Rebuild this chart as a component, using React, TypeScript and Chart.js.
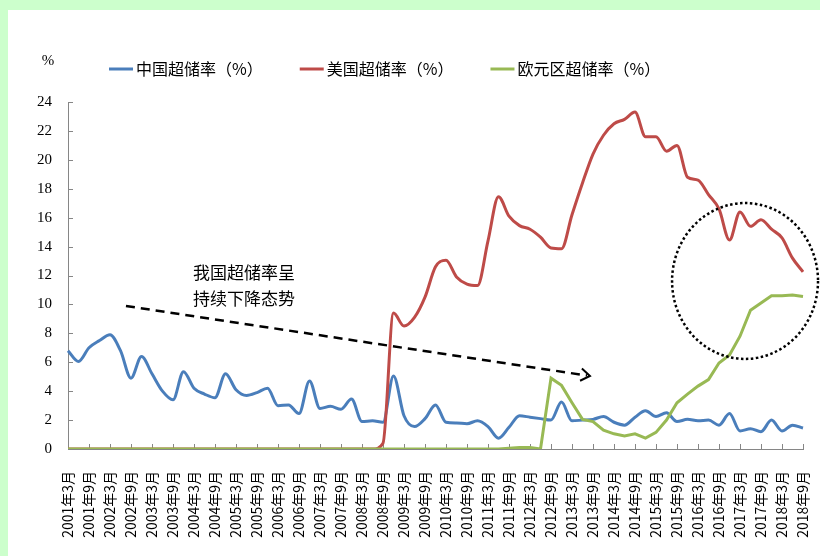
import React, { useEffect, useRef } from "react";
import { Chart, registerables } from "chart.js";

Chart.register(...registerables);

// ---- categories (quarterly, 2001年3月 … 2018年9月) ----
const FIRST_YEAR = 2001;
const LAST_YEAR = 2018;
const MONTHS = [3, 6, 9, 12];
const labels: string[] = [];
for (let y = FIRST_YEAR; y <= LAST_YEAR; y++) {
  for (const m of MONTHS) {
    if (y === LAST_YEAR && m > 9) continue;
    labels.push(`${y}年${m}月`);
  }
}

// ---- series values (%) ----
const chinaRate = [
  6.8, 6.05, 7.0, 7.5, 7.9, 6.8, 4.9, 6.4, 5.2, 4.0, 3.4, 5.35, 4.2, 3.8, 3.55, 5.2,
  4.1, 3.7, 3.9, 4.2, 3.0, 3.05, 2.45, 4.7, 2.8, 2.95, 2.75, 3.45, 1.9, 1.95, 1.85,
  5.05, 2.3, 1.55, 2.1, 3.05, 1.85, 1.8, 1.75, 1.95, 1.55, 0.75, 1.5, 2.3, 2.2, 2.1,
  2.0, 3.25, 1.95, 2.0, 2.05, 2.25, 1.85, 1.65, 2.2, 2.65, 2.25, 2.5, 1.9, 2.05, 1.95,
  2.0, 1.65, 2.45, 1.25, 1.4, 1.2, 2.0, 1.25, 1.65, 1.45,
];

const usRate = [
  0, 0, 0, 0, 0, 0, 0, 0, 0, 0, 0, 0, 0, 0, 0, 0, 0, 0, 0, 0, 0, 0, 0, 0, 0, 0, 0, 0, 0, 0,
  0.4, 9.4, 8.5, 9.1, 10.5, 12.6, 13.05, 11.9, 11.4, 11.3, 14.4, 17.45, 16.1, 15.45, 15.2,
  14.65, 13.9, 13.85, 16.2, 18.4, 20.4, 21.7, 22.5, 22.8, 23.3, 21.6, 21.6, 20.6, 21.0,
  18.8, 18.6, 17.6, 16.6, 14.45, 16.4, 15.4, 15.85, 15.2, 14.6, 13.2, 12.25,
];

const euroRate = [
  0, 0, 0, 0, 0, 0, 0, 0, 0, 0, 0, 0, 0, 0, 0, 0, 0, 0, 0, 0, 0, 0, 0, 0, 0, 0, 0, 0, 0, 0,
  0, 0, 0, 0, 0, 0, 0, 0, 0, 0, 0, 0,
  0.05, 0.1, 0.1, 0, 4.9, 4.4, 3.2, 2.05, 1.9, 1.3, 1.05, 0.9, 1.05, 0.75, 1.15, 2.0, 3.2,
  3.8, 4.35, 4.8, 5.95, 6.5, 7.8, 9.6, 10.1, 10.6, 10.6, 10.65, 10.55,
];

const seriesNames = ["中国超储率（%）", "美国超储率（%）", "欧元区超储率（%）"];
const seriesColors = ["#4A7EBB", "#BE4B48", "#98B954"];

// y axis
const Y_MIN = 0;
const Y_MAX = 24;
const Y_STEP = 2;
const UNIT_LABEL = "%";

// annotations, in data units (category index, value)
const noteLines = ["我国超储率呈", "持续下降态势"];
const notePos = { x: 16.76, y1: 12.17, y2: 10.44 };
const arrowFrom = { x: 5.52, y: 9.89 };
const arrowTo = { x: 49.71, y: 5.05 };
const circle = { x: 64.48, y: 11.62, rx: 6.95, ry: 5.39 };

const AXIS_GREY = "#868686";
const CJK = '"Noto Sans CJK SC", "Noto Sans", sans-serif';
const SERIF = '"Liberation Serif", "DejaVu Serif", serif';

const decorPlugin = {
  id: "decor",
  beforeDraw(chart: any) {
    const { ctx, width, height } = chart;
    ctx.save();
    ctx.fillStyle = "#ffffff";
    ctx.fillRect(0, 0, width, height);
    ctx.fillStyle = "#CCFFCC";
    ctx.fillRect(0, 0, width, 10);
    ctx.fillRect(0, 0, 8, height);
    ctx.restore();
  },
  beforeDatasetsDraw(chart: any) {
    const { ctx, chartArea } = chart;
    const xs = chart.scales.x;
    const ys = chart.scales.y;
    ctx.save();
    ctx.strokeStyle = AXIS_GREY;
    ctx.lineWidth = 1;
    ctx.beginPath();
    for (let i = 2; i < labels.length; i += 2) {
      const px = Math.round(xs.getPixelForValue(i)) + 0.5;
      ctx.moveTo(px, chartArea.bottom);
      ctx.lineTo(px, chartArea.bottom - 5);
    }
    for (let v = Y_MIN + Y_STEP; v <= Y_MAX; v += Y_STEP) {
      const py = Math.round(ys.getPixelForValue(v)) + 0.5;
      ctx.moveTo(chartArea.left, py);
      ctx.lineTo(chartArea.left + 5, py);
    }
    ctx.stroke();
    ctx.restore();
  },
  afterDraw(chart: any) {
    const { ctx, chartArea } = chart;
    const xs = chart.scales.x;
    const ys = chart.scales.y;
    ctx.save();

    // unit label
    ctx.fillStyle = "#000";
    ctx.font = `15px ${SERIF}`;
    ctx.textAlign = "center";
    ctx.textBaseline = "middle";
    ctx.fillText(UNIT_LABEL, chartArea.left - 20, chartArea.top - 41);

    // legend
    ctx.font = `16px ${CJK}`;
    ctx.textAlign = "left";
    let lx = chartArea.left + 41;
    const ly = chartArea.top - 33;
    seriesNames.forEach((name, i) => {
      ctx.strokeStyle = seriesColors[i];
      ctx.lineWidth = 3;
      ctx.beginPath();
      ctx.moveTo(lx, ly);
      ctx.lineTo(lx + 24, ly);
      ctx.stroke();
      ctx.fillStyle = "#000";
      ctx.fillText(name, lx + 27, ly);
      lx += 27 + ctx.measureText(name).width + 37;
    });

    // annotation text
    ctx.font = `17px ${CJK}`;
    ctx.textAlign = "center";
    ctx.fillStyle = "#000";
    const tx = xs.getPixelForValue(notePos.x);
    ctx.fillText(noteLines[0], tx, ys.getPixelForValue(notePos.y1));
    ctx.fillText(noteLines[1], tx, ys.getPixelForValue(notePos.y2));

    // dashed arrow
    const x1 = xs.getPixelForValue(arrowFrom.x);
    const y1 = ys.getPixelForValue(arrowFrom.y);
    const x2 = xs.getPixelForValue(arrowTo.x);
    const y2 = ys.getPixelForValue(arrowTo.y);
    const ang = Math.atan2(y2 - y1, x2 - x1);
    ctx.strokeStyle = "#000";
    ctx.lineWidth = 2.5;
    ctx.setLineDash([9, 6]);
    ctx.beginPath();
    ctx.moveTo(x1, y1);
    ctx.lineTo(x2 - Math.cos(ang) * 3, y2 - Math.sin(ang) * 3);
    ctx.stroke();
    ctx.setLineDash([]);
    ctx.lineWidth = 2;
    ctx.beginPath();
    ctx.moveTo(x2 + Math.cos(ang + Math.PI - 0.6) * 11, y2 + Math.sin(ang + Math.PI - 0.6) * 11);
    ctx.lineTo(x2, y2);
    ctx.lineTo(x2 + Math.cos(ang + Math.PI + 0.6) * 11, y2 + Math.sin(ang + Math.PI + 0.6) * 11);
    ctx.stroke();

    // dotted circle
    const cx = xs.getPixelForValue(circle.x);
    const cy = ys.getPixelForValue(circle.y);
    const rx = Math.abs(xs.getPixelForValue(circle.x + circle.rx) - cx);
    const ry = Math.abs(ys.getPixelForValue(circle.y + circle.ry) - cy);
    ctx.lineWidth = 2.5;
    ctx.setLineDash([2.5, 2.5]);
    ctx.beginPath();
    ctx.ellipse(cx, cy, rx, ry, 0, 0, Math.PI * 2);
    ctx.stroke();

    ctx.restore();
  },
};

export default function App() {
  const canvasRef = useRef<HTMLCanvasElement | null>(null);

  useEffect(() => {
    if (!canvasRef.current) return;
    const chart = new Chart(canvasRef.current, {
      type: "line",
      data: {
        labels,
        datasets: [
          {
            label: seriesNames[0],
            data: chinaRate,
            borderColor: seriesColors[0],
            backgroundColor: seriesColors[0],
            borderWidth: 3,
            pointRadius: 0,
            cubicInterpolationMode: "monotone",
            order: 2,
          },
          {
            label: seriesNames[1],
            data: usRate,
            borderColor: seriesColors[1],
            backgroundColor: seriesColors[1],
            borderWidth: 3,
            pointRadius: 0,
            cubicInterpolationMode: "monotone",
            order: 1,
          },
          {
            label: seriesNames[2],
            data: euroRate,
            borderColor: seriesColors[2],
            backgroundColor: seriesColors[2],
            borderWidth: 3,
            pointRadius: 0,
            tension: 0,
            order: 0,
          },
        ],
      },
      options: {
        responsive: false,
        animation: false,
        devicePixelRatio: 1,
        layout: { padding: { left: 0, top: 102, right: 17, bottom: 0 } },
        plugins: {
          legend: { display: false },
          tooltip: { enabled: false },
        },
        scales: {
          x: {
            type: "category",
            offset: false,
            grid: { display: false, drawTicks: false, tickLength: 0 },
            border: { display: true, color: AXIS_GREY, width: 1 },
            ticks: {
              autoSkip: false,
              minRotation: 90,
              maxRotation: 90,
              padding: 22,
              color: "#000",
              font: { family: CJK, size: 14 },
              callback: (_v: any, i: number) => (i % 2 === 0 ? labels[i] : null),
            },
            afterFit: (s: any) => {
              s.height = 107;
              s.paddingLeft = 0;
              s.paddingRight = 0;
            },
          },
          y: {
            min: Y_MIN,
            max: Y_MAX,
            grid: { display: false, drawTicks: false, tickLength: 0 },
            border: { display: true, color: AXIS_GREY, width: 1 },
            ticks: {
              stepSize: Y_STEP,
              padding: 16,
              color: "#000",
              font: { family: SERIF, size: 15 },
            },
            afterFit: (s: any) => {
              s.width = 68;
              s.paddingTop = 0;
              s.paddingBottom = 0;
            },
          },
        },
      },
      plugins: [decorPlugin],
    });
    return () => chart.destroy();
  }, []);

  return (
    <div style={{ position: "fixed", left: 0, top: 0, width: 820, height: 556, background: "#fff" }}>
      <canvas ref={canvasRef} width={820} height={556} style={{ display: "block", width: 820, height: 556 }} />
    </div>
  );
}
